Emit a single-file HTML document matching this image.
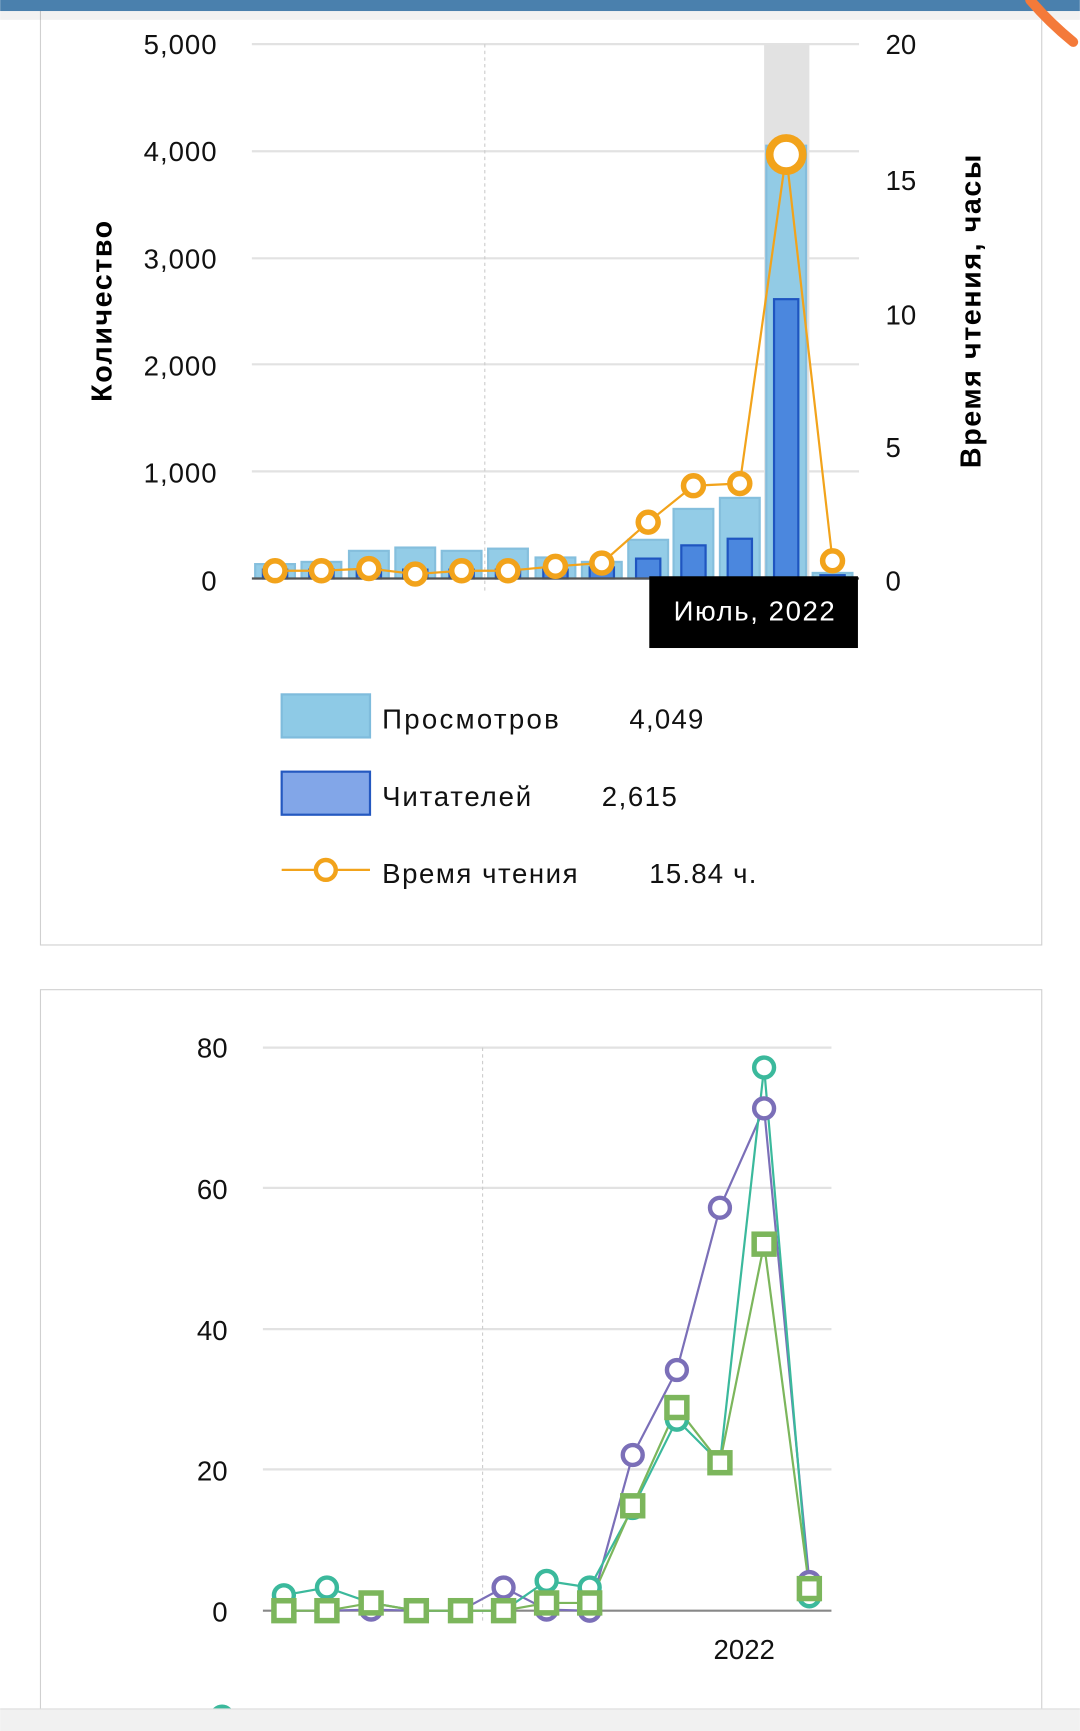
<!DOCTYPE html>
<html><head><meta charset="utf-8"><style>
html,body{margin:0;padding:0;background:#fff;}
svg{display:block;}
text{font-family:"Liberation Sans",sans-serif;}
</style></head><body>
<svg width="1080" height="1731" viewBox="0 0 978 1568" xmlns="http://www.w3.org/2000/svg">
<rect width="978" height="1568" fill="#fff"/>
<!-- panel 1 -->
<rect x="36.5" y="-5" width="907" height="861" fill="#fff" stroke="#d0d0d0"/>
<rect x="0" y="0" width="978" height="10" fill="#4a80ad"/>
<rect x="0" y="10" width="978" height="8" fill="#000" opacity="0.05"/>
<path d="M933 0 Q950 20 972 38" stroke="#f47a3a" stroke-width="9" fill="none" stroke-linecap="round"/>
<g stroke="#e2e2e2" stroke-width="2">
<line x1="228" y1="40" x2="778" y2="40"/><line x1="228" y1="137" x2="778" y2="137"/>
<line x1="228" y1="234" x2="778" y2="234"/><line x1="228" y1="330" x2="778" y2="330"/>
<line x1="228" y1="427" x2="778" y2="427"/>
</g>
<line x1="439" y1="40" x2="439" y2="536" stroke="#ccc" stroke-dasharray="3,3"/>
<rect x="692" y="40" width="41" height="484" fill="#e2e2e2"/>
<g font-size="25" fill="#111" text-anchor="end">
<text x="196" y="49" textLength="66">5,000</text><text x="196" y="146" textLength="66">4,000</text><text x="196" y="243" textLength="66">3,000</text>
<text x="196" y="340" textLength="66">2,000</text><text x="196" y="437" textLength="66">1,000</text><text x="196" y="535">0</text>
</g>
<g font-size="25" fill="#111">
<text x="802" y="49">20</text><text x="802" y="172">15</text><text x="802" y="294">10</text>
<text x="802" y="414">5</text><text x="802" y="535">0</text>
</g>
<text transform="translate(101,282) rotate(-90)" font-size="26" font-weight="bold" text-anchor="middle" textLength="164">Количество</text>
<text transform="translate(888,282) rotate(-90)" font-size="26" font-weight="bold" text-anchor="middle" textLength="284">Время чтения, часы</text>
<g fill="#8ecae6" stroke="#7fbcdc" stroke-width="2" opacity="0.95">
<rect x="231" y="511" width="36" height="13"/><rect x="273" y="509" width="36" height="15"/>
<rect x="316" y="499" width="36" height="25"/><rect x="358" y="496" width="36" height="28"/>
<rect x="400" y="499" width="36" height="25"/><rect x="442" y="497" width="36" height="27"/>
<rect x="485" y="505" width="36" height="19"/><rect x="527" y="509" width="36" height="15"/>
<rect x="569" y="489" width="36" height="35"/><rect x="610" y="461" width="36" height="63"/>
<rect x="652" y="451" width="36" height="73"/><rect x="694" y="132" width="36" height="392"/>
<rect x="736" y="519" width="36" height="5"/>
</g>
<g fill="#4b87de" stroke="#1f55c0" stroke-width="2">
<rect x="238" y="516" width="22" height="8"/><rect x="280" y="516" width="22" height="8"/>
<rect x="323" y="516" width="22" height="8"/><rect x="365" y="516" width="22" height="8"/>
<rect x="407" y="516" width="22" height="8"/><rect x="449" y="516" width="22" height="8"/>
<rect x="492" y="516" width="22" height="8"/><rect x="534" y="514" width="22" height="10"/>
<rect x="576" y="506" width="22" height="18"/><rect x="617" y="494" width="22" height="30"/>
<rect x="659" y="488" width="22" height="36"/><rect x="701" y="271" width="22" height="253"/>
<rect x="743" y="521" width="22" height="3"/>
</g>
<line x1="228" y1="524" x2="778" y2="524" stroke="#555" stroke-width="2"/>
<polyline fill="none" stroke="#f2a31b" stroke-width="2" points="249,517 291,517 334,515 376,520 418,517 460,517 503,513 545,510 587,473 628,440 670,438 712,140 754,508"/>
<g fill="#fff" stroke="#f2a31b" stroke-width="5">
<circle cx="249" cy="517" r="9"/><circle cx="291" cy="517" r="9"/><circle cx="334" cy="515" r="9"/>
<circle cx="376" cy="520" r="9"/><circle cx="418" cy="517" r="9"/><circle cx="460" cy="517" r="9"/>
<circle cx="503" cy="513" r="9"/><circle cx="545" cy="510" r="9"/><circle cx="587" cy="473" r="9"/>
<circle cx="628" cy="440" r="9"/><circle cx="670" cy="438" r="9"/><circle cx="754" cy="508" r="9"/>
<circle cx="712" cy="140" r="15" stroke-width="7"/>
</g>
<rect x="588" y="522" width="189" height="65" fill="#000"/>
<text x="683" y="562" font-size="25" fill="#fff" text-anchor="middle" textLength="146">Июль, 2022</text>
<rect x="255" y="629" width="80" height="39" fill="#8ecae6" stroke="#7fbcdc" stroke-width="2"/>
<rect x="255" y="699" width="80" height="39" fill="#82a6e8" stroke="#2458c0" stroke-width="2"/>
<line x1="255" y1="788" x2="335" y2="788" stroke="#f2a31b" stroke-width="2"/>
<circle cx="295" cy="788" r="9" fill="#fff" stroke="#f2a31b" stroke-width="4"/>
<g font-size="25" fill="#111">
<text x="346" y="660" textLength="160">Просмотров</text><text x="570" y="660" textLength="67">4,049</text>
<text x="346" y="730" textLength="135">Читателей</text><text x="545" y="730" textLength="68">2,615</text>
<text x="346" y="800" textLength="177">Время чтения</text><text x="588" y="800" textLength="97">15.84 ч.</text>
</g>
<!-- panel 2 -->
<rect x="36.5" y="896.5" width="907" height="700" fill="#fff" stroke="#d0d0d0"/>
<g stroke="#e2e2e2" stroke-width="2">
<line x1="238" y1="949" x2="753" y2="949"/><line x1="238" y1="1076" x2="753" y2="1076"/>
<line x1="238" y1="1204" x2="753" y2="1204"/><line x1="238" y1="1331" x2="753" y2="1331"/>
</g>
<line x1="437" y1="949" x2="437" y2="1468" stroke="#ccc" stroke-dasharray="3,3"/>
<line x1="238" y1="1459" x2="753" y2="1459" stroke="#888" stroke-width="2"/>
<g font-size="25" fill="#111" text-anchor="end">
<text x="206" y="958">80</text><text x="206" y="1086">60</text><text x="206" y="1214">40</text>
<text x="206" y="1341">20</text><text x="206" y="1469">0</text>
</g>
<text x="674" y="1503" font-size="25" fill="#111" text-anchor="middle">2022</text>
<polyline fill="none" stroke="#7b6fb8" stroke-width="2" points="257,1459 296,1459 336,1458 377,1459 417,1459 456,1438 495,1458 534,1459 573,1318 613,1241 652,1094 692,1004 733,1433"/>
<polyline fill="none" stroke="#3bb99c" stroke-width="2" points="257,1445 296,1438 336,1452 377,1459 417,1459 456,1459 495,1432 534,1438 573,1366 613,1286 652,1325 692,967 733,1446"/>
<polyline fill="none" stroke="#7cb65c" stroke-width="2" points="257,1459 296,1459 336,1452 377,1459 417,1459 456,1459 495,1452 534,1452 573,1364 613,1275 652,1325 692,1127 733,1439"/>
<g fill="#fff" stroke="#7b6fb8" stroke-width="4">
<circle cx="336" cy="1458" r="9"/><circle cx="456" cy="1438" r="9"/><circle cx="495" cy="1458" r="9"/>
<circle cx="534" cy="1459" r="9"/><circle cx="573" cy="1318" r="9"/><circle cx="613" cy="1241" r="9"/>
<circle cx="652" cy="1094" r="9"/><circle cx="692" cy="1004" r="9"/><circle cx="733" cy="1433" r="9"/>
</g>
<g fill="#fff" stroke="#3bb99c" stroke-width="4">
<circle cx="257" cy="1445" r="9"/><circle cx="296" cy="1438" r="9"/><circle cx="495" cy="1432" r="9"/>
<circle cx="534" cy="1438" r="9"/><circle cx="573" cy="1366" r="9"/><circle cx="613" cy="1286" r="9"/>
<circle cx="692" cy="967" r="9"/><circle cx="733" cy="1446" r="9"/>
</g>
<g fill="#fff" stroke="#7cb65c" stroke-width="5">
<rect x="248" y="1450" width="18" height="18"/><rect x="287" y="1450" width="18" height="18"/>
<rect x="327" y="1443" width="18" height="18"/><rect x="368" y="1450" width="18" height="18"/>
<rect x="408" y="1450" width="18" height="18"/><rect x="447" y="1450" width="18" height="18"/>
<rect x="486" y="1443" width="18" height="18"/><rect x="525" y="1443" width="18" height="18"/>
<rect x="564" y="1355" width="18" height="18"/><rect x="604" y="1266" width="18" height="18"/>
<rect x="643" y="1316" width="18" height="18"/><rect x="683" y="1118" width="18" height="18"/>
<rect x="724" y="1430" width="18" height="18"/>
</g>
<circle cx="201" cy="1555" r="9" fill="#fff" stroke="#3bb99c" stroke-width="4"/>
<rect x="0" y="1548" width="978" height="20" fill="#f1f1f1"/>
<line x1="0" y1="1548" x2="978" y2="1548" stroke="#ddd"/>
</svg>
</body></html>
